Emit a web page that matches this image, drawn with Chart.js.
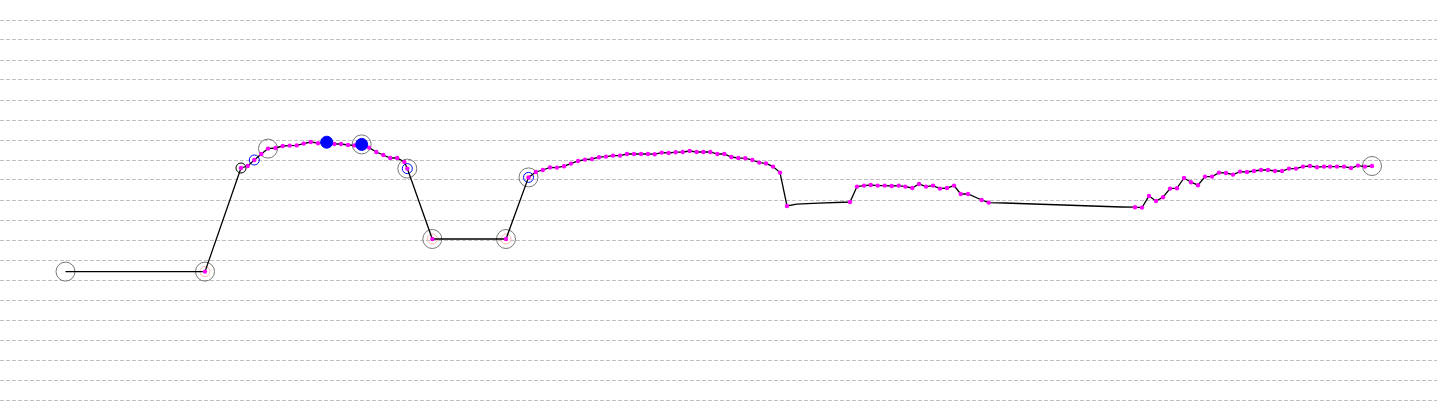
<!DOCTYPE html>
<html>
<head>
<meta charset="utf-8">
<script src="https://cdn.jsdelivr.net/npm/chart.js@4/dist/chart.umd.min.js"></script>
<style>
  html, body { margin: 0; padding: 0; background: #fff; }
  #wrap { width: 1437px; height: 413px; }
</style>
</head>
<body>
<div id="wrap"><canvas id="track-chart"></canvas></div>
<script>
// route samples: position along track and level
const distance = [65.5, 205, 241, 247.7, 254.3, 261.3, 268, 275.5, 282.7, 289.7,
  296.7, 303.7, 310.8, 318, 326.7, 334.3, 341, 348, 354.5, 361.7,
  369, 376.3, 383.3, 390.2, 397.2, 404.3, 407.3, 432.3, 506, 528.5,
  535.8, 542.8, 550, 557, 564, 571, 578, 585, 592, 599,
  606, 613, 620, 627, 634, 641, 648, 654.7, 661.7, 668.7,
  675.7, 682.7, 689.7, 696.7, 703.3, 710.3, 717.3, 724.3, 731.3, 738.3,
  745.3, 752.3, 759.3, 766, 773, 780, 787, 796.7, 818.3, 850,
  857, 864, 870.7, 877.7, 884.7, 891.7, 898.7, 905.3, 912.3, 919,
  926, 933, 940, 947, 954, 960.7, 968, 981.7, 988.7, 1005,
  1033.3, 1063.3, 1091.7, 1121.7, 1135, 1142, 1149, 1156, 1163, 1170,
  1177, 1184, 1191, 1198, 1205, 1212, 1219, 1226, 1233, 1240,
  1247, 1254, 1261, 1268, 1275, 1282, 1289, 1296, 1303, 1310,
  1317, 1324, 1330, 1337, 1344, 1351, 1358, 1365, 1372];

const level = [64.2, 64.2, 116.0, 117.0, 120.0, 123.0, 125.7, 126.0, 127.0, 127.2,
  127.3, 128.2, 129.0, 128.4, 128.9, 128.0, 128.0, 127.5, 127.3, 127.8,
  126.2, 124.0, 122.5, 121.0, 121.0, 119.0, 115.7, 80.5, 80.5, 111.3,
  114.0, 115.0, 116.3, 116.2, 116.9, 118.2, 119.5, 120.2, 120.5, 121.4,
  121.7, 122.2, 122.2, 123.0, 123.0, 123.0, 123.0, 122.9, 123.7, 123.5,
  123.9, 124.0, 124.5, 124.0, 124.0, 124.0, 123.0, 123.0, 121.5, 121.0,
  120.9, 120.0, 118.7, 118.3, 116.7, 113.7, 97.0, 97.9, 98.4, 99.0,
  106.7, 107.2, 107.5, 107.2, 107.2, 107.0, 107.2, 106.7, 106.0, 108.0,
  106.7, 107.2, 105.7, 106.0, 107.2, 103.0, 103.0, 100.0, 98.7, 98.5,
  98.0, 97.5, 97.0, 96.5, 96.4, 96.2, 102.0, 99.5, 101.4, 105.7,
  105.9, 111.0, 108.9, 107.4, 111.7, 111.7, 113.7, 113.5, 112.7, 114.2,
  114.0, 114.5, 115.0, 115.0, 114.5, 114.5, 115.7, 115.7, 116.7, 117.0,
  116.4, 116.7, 116.7, 116.7, 116.7, 116.0, 117.2, 116.7, 117.0];

// samples with no recorded reading (line vertex only)
const bare = [0, 67, 68, 89, 90, 91, 92, 93];

// flagged samples
const grayRings = [0, 1, 6, 19, 26, 27, 28, 29, 128];
const pinkRings = [1, 27, 28];
const blueRings = [4, 26, 29];
const blackRings = [2];
const blueDots = [14, 19];

const levelTicks = [0, 10, 20, 30, 40, 50, 60, 70, 80, 90, 100,
  110, 120, 130, 140, 150, 160, 170, 180, 190];

const pts = idx => idx.map(i => ({ x: distance[i], y: level[i] }));

function markers(idx, opts) {
    return Object.assign({
        type: 'scatter',
        data: pts(idx),
        showLine: false,
        pointBackgroundColor: 'rgba(0,0,0,0)',
        pointBorderWidth: 1,
        pointHoverRadius: 0
    }, opts);
}

new Chart(document.querySelector('#track-chart').getContext('2d'), {
    type: 'line',
    data: {
        datasets: [
            markers(blueDots, { order: 0, pointRadius: 6, pointBackgroundColor: '#0000ff', pointBorderColor: '#0000ff' }),
            {
                order: 1,
                data: distance.map((d, i) => ({ x: d, y: level[i] })),
                borderColor: '#000000',
                borderWidth: 1.3,
                tension: 0,
                pointRadius: ctx => bare.includes(ctx.dataIndex) ? 0 : 2.2,
                pointBackgroundColor: '#ff00ff',
                pointBorderWidth: 0,
                pointHoverRadius: 0
            },
            markers(blackRings, { order: 2, pointRadius: 5, pointBorderColor: '#000000' }),
            markers(blueRings, { order: 3, pointRadius: 5, pointBorderColor: '#0000ff' }),
            markers(pinkRings, { order: 4, pointRadius: 5, pointBorderColor: '#ffb6b6' }),
            markers(grayRings, { order: 5, pointRadius: 9.5, pointBorderColor: '#777777' })
        ]
    },
    options: {
        responsive: true,
        maintainAspectRatio: false,
        animation: false,
        events: [],
        layout: {
            autoPadding: false,
            padding: { top: 0, left: 0, right: 0, bottom: 13 }
        },
        plugins: {
            legend: { display: false },
            tooltip: { enabled: false }
        },
        scales: {
            x: {
                type: 'linear',
                min: 0,
                max: 1437,
                display: false
            },
            y: {
                min: 0,
                max: 200,
                afterBuildTicks: scale => { scale.ticks = levelTicks.map(v => ({ value: v })); },
                ticks: { display: false },
                border: { display: false, dash: [4, 2] },
                grid: {
                    drawTicks: false,
                    color: '#c0c0c0',
                    lineWidth: 1
                }
            }
        }
    }
});
</script>
</body>
</html>
